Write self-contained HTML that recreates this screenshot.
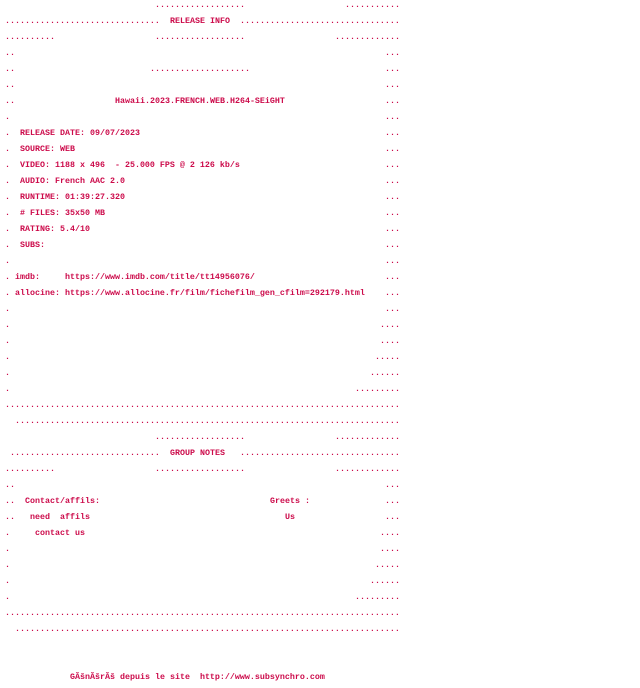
<!DOCTYPE html>
<html><head><meta charset="utf-8"><style>
html,body{margin:0;padding:0;background:#fff;width:640px;height:688px;overflow:hidden}
body{position:relative;font-family:"Liberation Mono",monospace;font-size:8.333px;font-weight:bold;color:#cc0a4a}
.r{position:absolute;left:0;height:16px;line-height:16px;white-space:pre;width:640px;margin-top:1px}
.r span{position:absolute;top:0}
</style></head><body>
<div class="r" style="top:-4px"><span style="left:155px">..................</span><span style="left:345px">...........</span></div>
<div class="r" style="top:12px"><span style="left:5px">...............................</span><span style="left:170px">RELEASE INFO</span><span style="left:240px">................................</span></div>
<div class="r" style="top:28px"><span style="left:5px">..........</span><span style="left:155px">..................</span><span style="left:335px">.............</span></div>
<div class="r" style="top:44px"><span style="left:5px">..</span><span style="left:385px">...</span></div>
<div class="r" style="top:60px"><span style="left:5px">..</span><span style="left:150px">....................</span><span style="left:385px">...</span></div>
<div class="r" style="top:76px"><span style="left:5px">..</span><span style="left:385px">...</span></div>
<div class="r" style="top:92px"><span style="left:5px">..</span><span style="left:115px">Hawaii.2023.FRENCH.WEB.H264-SEiGHT</span><span style="left:385px">...</span></div>
<div class="r" style="top:108px"><span style="left:5px">.</span><span style="left:385px">...</span></div>
<div class="r" style="top:124px"><span style="left:5px">.  RELEASE DATE: 09/07/2023</span><span style="left:385px">...</span></div>
<div class="r" style="top:140px"><span style="left:5px">.  SOURCE: WEB</span><span style="left:385px">...</span></div>
<div class="r" style="top:156px"><span style="left:5px">.  VIDEO: 1188 x 496  - 25.000 FPS @ 2 126 kb/s</span><span style="left:385px">...</span></div>
<div class="r" style="top:172px"><span style="left:5px">.  AUDIO: French AAC 2.0</span><span style="left:385px">...</span></div>
<div class="r" style="top:188px"><span style="left:5px">.  RUNTIME: 01:39:27.320</span><span style="left:385px">...</span></div>
<div class="r" style="top:204px"><span style="left:5px">.  # FILES: 35x50 MB</span><span style="left:385px">...</span></div>
<div class="r" style="top:220px"><span style="left:5px">.  RATING: 5.4/10</span><span style="left:385px">...</span></div>
<div class="r" style="top:236px"><span style="left:5px">.  SUBS:</span><span style="left:385px">...</span></div>
<div class="r" style="top:252px"><span style="left:5px">.</span><span style="left:385px">...</span></div>
<div class="r" style="top:268px"><span style="left:5px">. imdb:     https://www.imdb.com/title/tt14956076/</span><span style="left:385px">...</span></div>
<div class="r" style="top:284px"><span style="left:5px">. allocine: https://www.allocine.fr/film/fichefilm_gen_cfilm=292179.html</span><span style="left:385px">...</span></div>
<div class="r" style="top:300px"><span style="left:5px">.</span><span style="left:385px">...</span></div>
<div class="r" style="top:316px"><span style="left:5px">.</span><span style="left:380px">....</span></div>
<div class="r" style="top:332px"><span style="left:5px">.</span><span style="left:380px">....</span></div>
<div class="r" style="top:348px"><span style="left:5px">.</span><span style="left:375px">.....</span></div>
<div class="r" style="top:364px"><span style="left:5px">.</span><span style="left:370px">......</span></div>
<div class="r" style="top:380px"><span style="left:5px">.</span><span style="left:355px">.........</span></div>
<div class="r" style="top:396px"><span style="left:5px">...............................................................................</span></div>
<div class="r" style="top:412px"><span style="left:15px">.............................................................................</span></div>
<div class="r" style="top:428px"><span style="left:155px">..................</span><span style="left:335px">.............</span></div>
<div class="r" style="top:444px"><span style="left:10px">..............................</span><span style="left:170px">GROUP NOTES</span><span style="left:240px">................................</span></div>
<div class="r" style="top:460px"><span style="left:5px">..........</span><span style="left:155px">..................</span><span style="left:335px">.............</span></div>
<div class="r" style="top:476px"><span style="left:5px">..</span><span style="left:385px">...</span></div>
<div class="r" style="top:492px"><span style="left:5px">..  Contact/affils:</span><span style="left:270px">Greets :</span><span style="left:385px">...</span></div>
<div class="r" style="top:508px"><span style="left:5px">..   need  affils</span><span style="left:285px">Us</span><span style="left:385px">...</span></div>
<div class="r" style="top:524px"><span style="left:5px">.     contact us</span><span style="left:380px">....</span></div>
<div class="r" style="top:540px"><span style="left:5px">.</span><span style="left:380px">....</span></div>
<div class="r" style="top:556px"><span style="left:5px">.</span><span style="left:375px">.....</span></div>
<div class="r" style="top:572px"><span style="left:5px">.</span><span style="left:370px">......</span></div>
<div class="r" style="top:588px"><span style="left:5px">.</span><span style="left:355px">.........</span></div>
<div class="r" style="top:604px"><span style="left:5px">...............................................................................</span></div>
<div class="r" style="top:620px"><span style="left:15px">.............................................................................</span></div>
<div class="r" style="top:668px"><span style="left:70px">GĂšnĂšrĂš depuis le site  http://www.subsynchro.com</span></div>
</body></html>
